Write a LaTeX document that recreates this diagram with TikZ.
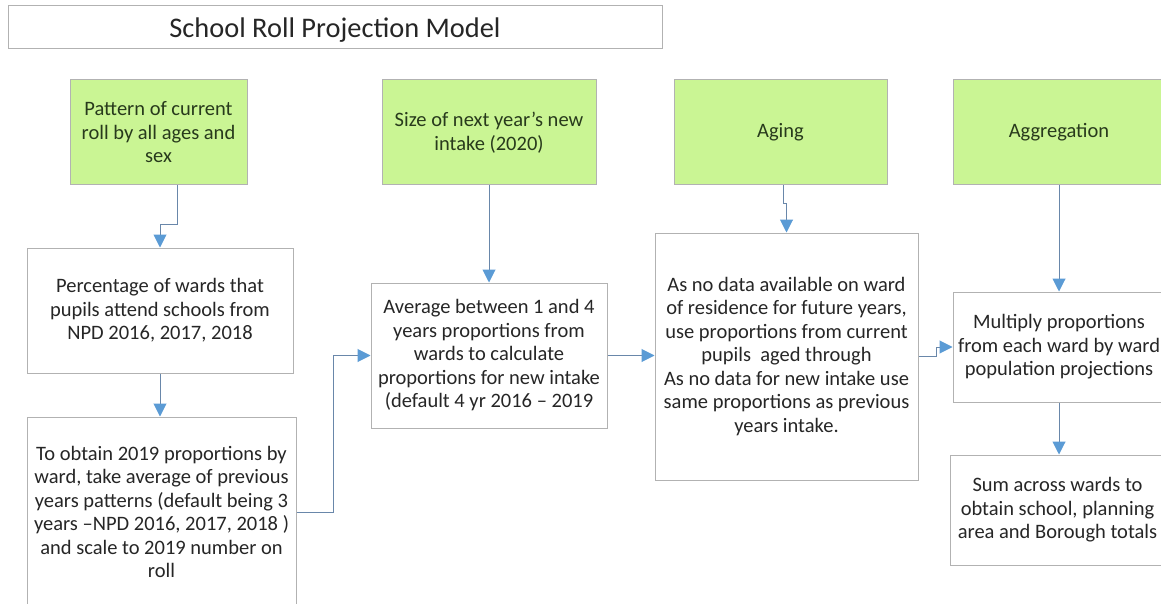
\documentclass[tikz,border=0pt]{standalone}
\usepackage{fontspec}
\setmainfont{Carlito}
\usetikzlibrary{arrows.meta}

\definecolor{boxgreen}{RGB}{202,245,148}
\definecolor{greentext}{RGB}{40,58,28}
\definecolor{flowblue}{RGB}{91,155,213}
\definecolor{linegray}{RGB}{105,135,170}

\begin{document}
\begin{tikzpicture}[x=1pt,y=-1pt,
    box/.style={rectangle,draw=black!30,line width=1pt,align=center,inner sep=0pt,
      font=\fontsize{20.5}{23.5}\selectfont,text=black!85},
    greenbox/.style={box,fill=boxgreen,text=greentext},
    flow/.style={draw=linegray,line width=1pt,-{Triangle[width=13pt,length=13pt,color=flowblue]}}]
      \fill[white] (0,0) rectangle (1161,604);
      \useasboundingbox (0,0) rectangle (1161,604);
      \node (title) [box,minimum width=654pt,minimum height=43pt,text height=21pt,text depth=0pt,
        font=\fontsize{28.4}{32}\selectfont] at (335,27.5) {School Roll Projection Model};
      \foreach \n/\x/\w/\t in {g1/158.5/177/{Pattern of current\\ roll by all ages and\\ sex},
          g2/489/214/{Size of next year’s new\\ intake (2020)},
          g3/780.5/213/{Aging},
          g4/1059/212/{Aggregation}}{
        \node (\n) [greenbox,minimum width=\w pt,minimum height=105pt] at (\x,132.5) {\t};
      }
      \node (w1) [box,minimum width=266pt,minimum height=125pt] at (160,310.5) {Percentage of wards that\\ pupils attend schools from\\ NPD 2016, 2017, 2018};
      \node (w2) [box,minimum width=269pt,minimum height=190pt] at (161.5,512) {To obtain 2019 proportions by\\ ward, take average of previous\\ years patterns (default being 3\\ years –NPD 2016, 2017, 2018 )\\ and scale to 2019 number on\\ roll};
      \node (w3) [box,minimum width=236pt,minimum height=145pt] at (489,355.5) {Average between 1 and 4\\ years proportions from\\ wards to calculate\\ proportions for new intake\\ (default 4 yr 2016 – 2019};
      \node (w4) [box,minimum width=263pt,minimum height=247pt] at (786.5,356.5) {As no data available on ward\\ of residence for future years,\\ use proportions from current\\ pupils\ \ aged through\\ As no data for new intake use\\ same proportions as previous\\ years intake.};
      \node (w5) [box,minimum width=212pt,minimum height=110pt] at (1059,347) {Multiply proportions\\ from each ward by ward\\ population projections};
      \node (w6) [box,minimum width=215pt,minimum height=110pt] at (1057.5,510) {Sum across wards to\\ obtain school, planning\\ area and Borough totals};
      \draw [flow] ([xshift=18.5pt]g1.south) -- ++(0,39) -| (w1.north);
      \draw [flow] (w1.south) -- (w1.south |- w2.north);
      \draw [flow] (w2.east) -- ++(37,0) |- (w3.west);
      \draw [flow] (g2.south) -- (w3.north);
      \draw [flow] (w3.east) -- (w3.east -| w4.west);
      \draw [flow] ([xshift=2.5pt]g3.south) -- ++(0,18) -| (w4.north);
      \draw [flow] (w4.east) -- ++(18,0) |- (w5.west);
      \draw [flow] (g4.south) -- (w5.north);
      \draw [flow] (w5.south) -- (w5.south |- w6.north);
    \end{tikzpicture}
\end{document}
